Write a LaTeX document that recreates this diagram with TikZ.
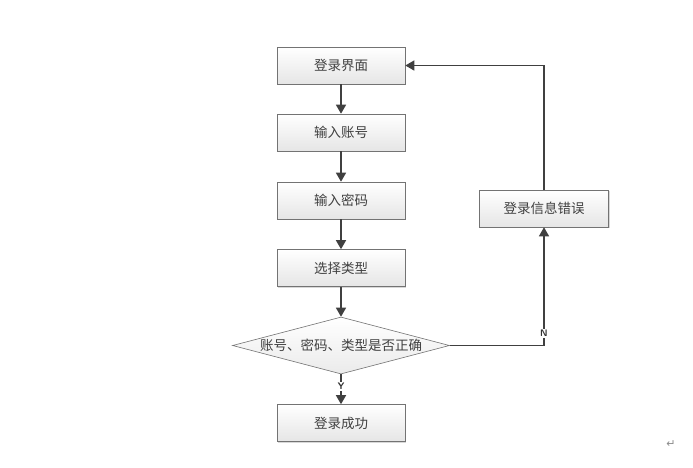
\documentclass[tikz,border=0pt]{standalone}
\usepackage{fontspec}
\newfontfamily\cjk{Noto Sans CJK SC}
\newfontfamily\dejavu{DejaVu Sans}
\usetikzlibrary{shapes.geometric,arrows.meta,shadows}
\begin{document}
\begin{tikzpicture}[x=1pt,y=-1pt,
  box/.style={draw=black!55,line width=0.6pt,top color=white,bottom color=black!10,
    minimum width=128pt,minimum height=37pt,inner sep=0pt,font=\cjk\fontsize{13.5}{15}\selectfont,text=black!75,
    drop shadow={shadow xshift=1pt,shadow yshift=-1pt,fill=black!25,opacity=0.6}},
  dec/.style={draw=black!55,line width=0.6pt,diamond,aspect=3.8,top color=white,bottom color=black!8,
    minimum width=217pt,minimum height=57pt,inner sep=0pt,font=\cjk\fontsize{13.5}{15}\selectfont,text=black!75},
  conn/.style={draw=black!75,line width=1.4pt,-{Triangle[length=9pt,width=10pt]}},
  lbl/.style={font=\sffamily\bfseries\fontsize{9.5}{10}\selectfont,text=black!80}
]
\useasboundingbox (0,0) rectangle (693,467);
\fill[white] (0,0) rectangle (693,467);
\node[box] (login) at (341,65.5) {登录界面};
\node[box] (acct) at (341,132.5) {输入账号};
\node[box] (pwd) at (341,200.5) {输入密码};
\node[box] (type) at (341,268) {选择类型};
\node[dec] (check) at (341,345.5) {账号、密码、类型是否正确};
\node[box] (ok) at (341,423) {登录成功};
\node[box,minimum width=129pt] (err) at (544,208.5) {登录信息错误};
\coordinate (c1) at (544,345.5);
\coordinate (c2) at (544,65.5);
\draw[conn] (login) -- (acct);
\draw[conn] (acct) -- (pwd);
\draw[conn] (pwd) -- (type);
\draw[conn] (type) -- (check);
\draw[conn] (check) -- node[lbl,fill=white,inner sep=1pt,pos=0.4] {Y} (ok);
\draw[conn] (check.east) -- (c1) -- node[lbl,pos=0.1,fill=white,inner sep=1pt] {N} (err.south);
\draw[conn] (err.north) -- (c2) -- (login.east);
\node[font=\dejavu\fontsize{11}{12}\selectfont,text=black!45] (ret) at (671,444) {↵};
\end{tikzpicture}
\end{document}
